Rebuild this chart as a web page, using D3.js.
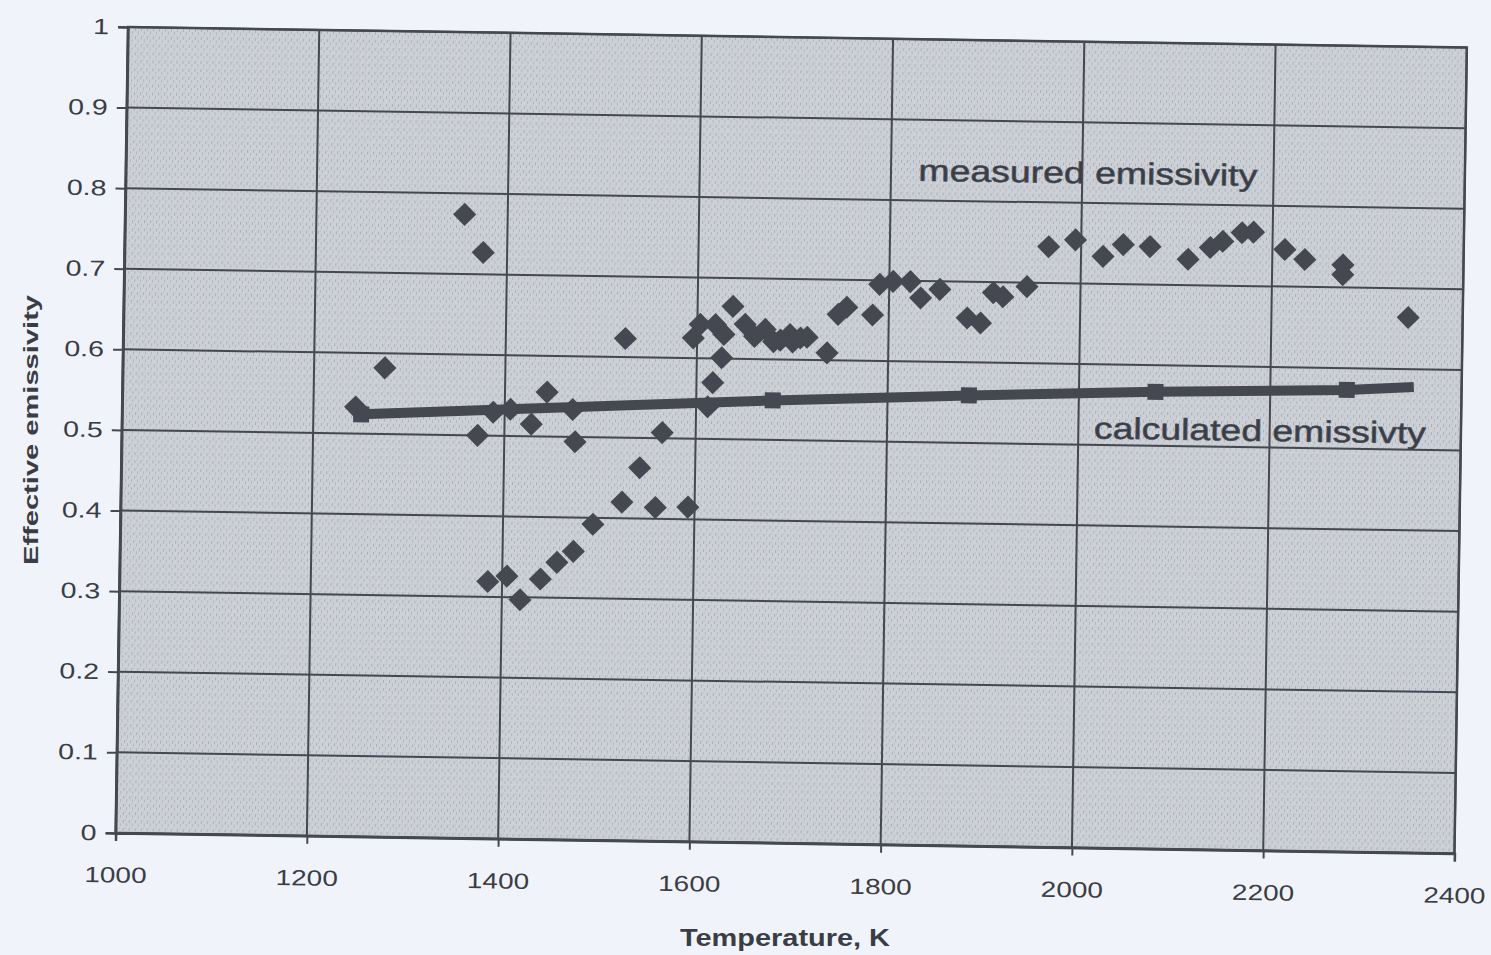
<!DOCTYPE html>
<html>
<head>
<meta charset="utf-8">
<script src="https://cdn.jsdelivr.net/npm/d3@7"></script>
<style>
  html, body { margin: 0; padding: 0; background: #f0f4fa; }
  svg { display: block; }
  text { font-family: "Liberation Sans", Arial, sans-serif; fill: #3a3d45; }
</style>
</head>
<body>
<svg id="chart" width="1491" height="955"></svg>
<script>
// ---- data ----
const measuredTemp = [1244,1274,1355,1375,1372,1385,1405,1419,1388,1406,1428,1444,1440,1457,1474,1471,1474,1494,1524,1525,1542,1559,1565,1593,1596,1612,1617,1626,1603,1619,1637,1650,1671,1697,1708,1687,1736,1747,1756,1783,1790,1804,1822,1833,1853,1882,1896,1909,1919,1944,1966,1994,2023,2044,2072,2112,2135,2148,2168,2180,2213,2234,2274,2274,2343,1628,1660,1680,1700,1715];
const measuredEmis = [0.533,0.582,0.774,0.727,0.500,0.319,0.326,0.297,0.529,0.533,0.515,0.555,0.323,0.344,0.494,0.534,0.358,0.392,0.420,0.623,0.463,0.414,0.507,0.415,0.625,0.540,0.570,0.601,0.642,0.642,0.665,0.643,0.637,0.631,0.627,0.624,0.609,0.657,0.666,0.657,0.695,0.699,0.699,0.679,0.690,0.655,0.649,0.687,0.682,0.695,0.745,0.754,0.734,0.749,0.747,0.732,0.747,0.755,0.766,0.767,0.746,0.734,0.728,0.716,0.664,0.630,0.628,0.622,0.622,0.628];
const calcTemp = [1250,1680,1885,2080,2280,2350];
const calcEmis = [0.524,0.549,0.559,0.567,0.573,0.578];
const xTicks = [1000,1200,1400,1600,1800,2000,2200,2400];
const yTicks = [0,0.1,0.2,0.3,0.4,0.5,0.6,0.7,0.8,0.9,1];
const yTickLabels = ["0","0.1","0.2","0.3","0.4","0.5","0.6","0.7","0.8","0.9","1"];
const xTitle = "Temperature, K";
const yTitle = "Effective emissivity";
const measuredLabel = "measured emissivity";
const calcLabel = "calculated emissivty";

// ---- layout ----
const W = 1339, H = 806;
const ink = "#454851";
const svg = d3.select("#chart");

// widen text to mimic the stretched scan lettering
function stretch(sel, f) {
  sel.each(function() {
    const L = this.getComputedTextLength();
    d3.select(this).attr("textLength", L * f).attr("lengthAdjust", "spacingAndGlyphs");
  });
}

const defs = svg.append("defs");
const pat = defs.append("pattern").attr("id","halftone").attr("patternUnits","userSpaceOnUse")
  .attr("width",6).attr("height",8);
pat.append("rect").attr("width",6).attr("height",8).attr("fill","#cdd0d4");
pat.append("rect").attr("x",1).attr("y",1).attr("width",1).attr("height",3).attr("fill","#9fb2c8");
pat.append("rect").attr("x",4).attr("y",4).attr("width",1).attr("height",3).attr("fill","#b9b1c2");
pat.append("rect").attr("x",3).attr("y",0).attr("width",1).attr("height",2).attr("fill","#bcc3cc");

const x = d3.scaleLinear().domain([1000,2400]).range([0,W]);
const y = d3.scaleLinear().domain([0,1]).range([H,0]);

const g = svg.append("g").attr("transform","translate(128,27) rotate(0.88)");

g.append("rect").attr("width",W).attr("height",H).attr("fill","url(#halftone)");

// grid
g.append("g").selectAll("line").data(yTicks).join("line")
  .attr("x1",0).attr("x2",W).attr("y1",d=>y(d)).attr("y2",d=>y(d))
  .attr("stroke",ink).attr("stroke-width",2);
g.append("g").selectAll("line").data(xTicks).join("line")
  .attr("y1",0).attr("y2",H).attr("x1",d=>x(d)).attr("x2",d=>x(d))
  .attr("stroke",ink).attr("stroke-width",2);

// axes
const yAxis = d3.axisLeft(y).tickValues(yTicks).tickFormat((d,i)=>yTickLabels[i]).tickSize(10).tickPadding(9);
const ya = g.append("g").call(yAxis);
ya.select(".domain").attr("stroke",ink).attr("stroke-width",2.5);
ya.selectAll(".tick line").attr("stroke",ink).attr("stroke-width",2);
ya.selectAll(".tick text").attr("font-size",22).attr("fill","#3a3d45")
  .style("font-family","'Liberation Sans', Arial, sans-serif");
stretch(ya.selectAll(".tick text"), 1.3);

const xAxis = d3.axisBottom(x).tickValues(xTicks).tickFormat(d3.format("d")).tickSize(8).tickPadding(26);
const xa = g.append("g").attr("transform",`translate(0,${H})`).call(xAxis);
xa.select(".domain").attr("stroke",ink).attr("stroke-width",2.5);
xa.selectAll(".tick line").attr("stroke",ink).attr("stroke-width",2);
xa.selectAll(".tick text").attr("font-size",22).attr("fill","#3a3d45")
  .style("font-family","'Liberation Sans', Arial, sans-serif");
stretch(xa.selectAll(".tick text"), 1.27);

// frame
g.append("rect").attr("width",W).attr("height",H).attr("fill","none").attr("stroke",ink).attr("stroke-width",2.5);

// calculated line
const line = d3.line().x((d,i)=>x(calcTemp[i])).y((d,i)=>y(calcEmis[i]));
g.append("path").datum(calcTemp).attr("d",line).attr("fill","none")
  .attr("stroke",ink).attr("stroke-width",10);
g.append("g").selectAll("rect").data(calcTemp.slice(0,-1)).join("rect")
  .attr("x",(d,i)=>x(d)-8).attr("y",(d,i)=>y(calcEmis[i])-8)
  .attr("width",16).attr("height",16).attr("fill",ink);

// measured diamonds
const diamond = d3.symbol().type(d3.symbolDiamond2).size(340);
g.append("g").selectAll("path").data(measuredTemp).join("path")
  .attr("d",diamond)
  .attr("transform",(d,i)=>`translate(${x(d)},${y(measuredEmis[i])})`)
  .attr("fill",ink);

// series labels
const t1 = g.append("text").attr("x",962).attr("y",131).attr("text-anchor","middle").attr("dominant-baseline","central")
  .attr("font-size",30).attr("fill","#4a4d56").attr("stroke","#4a4d56").attr("stroke-width",0.6).text(measuredLabel);
t1.attr("textLength",339).attr("lengthAdjust","spacingAndGlyphs");
const t2 = g.append("text").attr("x",1138).attr("y",386).attr("text-anchor","middle").attr("dominant-baseline","central")
  .attr("font-size",30).attr("fill","#4a4d56").attr("stroke","#4a4d56").attr("stroke-width",0.6).text(calcLabel);
t2.attr("textLength",332).attr("lengthAdjust","spacingAndGlyphs");

// axis titles
const xt = svg.append("text").attr("x",785).attr("y",946).attr("text-anchor","middle")
  .attr("font-size",23).attr("font-weight","bold").attr("fill","#3a3d45").text(xTitle);
xt.attr("textLength",210).attr("lengthAdjust","spacingAndGlyphs");
const yt = svg.append("text").attr("transform","translate(38,430) rotate(-90)").attr("text-anchor","middle")
  .attr("font-size",21).attr("font-weight","bold").attr("fill","#3a3d45").text(yTitle);
yt.attr("textLength",270).attr("lengthAdjust","spacingAndGlyphs");
</script>
</body>
</html>
